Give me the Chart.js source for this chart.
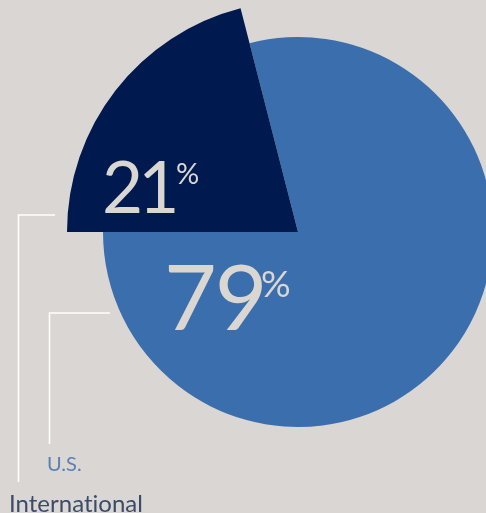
<!DOCTYPE html>
<html><head><meta charset="utf-8">
<script src="https://cdn.jsdelivr.net/npm/chart.js@4/dist/chart.umd.min.js"></script>
<style>
html,body{margin:0;padding:0;background:#DAD6D3;overflow:hidden;width:486px;height:513px;}
canvas{position:absolute;left:0;top:0;}
</style></head>
<body>
<canvas id="c" width="540" height="513" style="width:540px;height:513px"></canvas>
<script>
const categories = ['U.S.', 'International'];
const shares = [79, 21];
const sliceColors = ['#3A6EAD', '#001A4F'];
const labelColors = ['#5A80B6', '#3B4B68'];
const DARK_RADIUS_SCALE = 231 / 195;

const txt = '#DAD6D1';

const overlay = {
  id: 'overlay',
  beforeDatasetsDraw(chart) {
    const meta = chart.getDatasetMeta(0);
    meta.data[1].outerRadius = meta.data[0].outerRadius * DARK_RADIUS_SCALE;
  },
  afterDraw(chart) {
    const ctx = chart.ctx;
    ctx.save();
    ctx.fillStyle = txt;
    ctx.textBaseline = 'alphabetic';
    ctx.textAlign = 'left';
    // 21%
    ctx.letterSpacing = '-5px';
    ctx.font = '71px Lato';
    ctx.fillText(String(shares[1]), 102, 213);
    ctx.letterSpacing = '0px';
    ctx.font = '29px Lato';
    ctx.fillText('%', 176, 184);
    // 79%
    ctx.letterSpacing = '-2px';
    ctx.font = '91px Lato';
    ctx.fillText(String(shares[0]), 164, 330);
    ctx.letterSpacing = '0px';
    ctx.font = '37px Lato';
    ctx.fillText('%', 261, 297);
    // leader lines
    ctx.strokeStyle = '#FFFFFF';
    ctx.lineWidth = 1.6;
    ctx.beginPath();
    ctx.moveTo(55, 215); ctx.lineTo(18.5, 215); ctx.lineTo(18.5, 482);
    ctx.moveTo(110, 313); ctx.lineTo(49.5, 313); ctx.lineTo(49.5, 444);
    ctx.stroke();
    // category labels
    ctx.letterSpacing = '0.01px';
    ctx.font = '20px Lato';
    ctx.fillStyle = labelColors[0];
    ctx.fillText(categories[0], 47, 471);
    ctx.font = '24px Lato';
    ctx.fillStyle = labelColors[1];
    ctx.fillText(categories[1], 9, 512);
    ctx.restore();
  }
};

new Chart(document.getElementById('c'), {
  type: 'pie',
  data: {
    labels: categories,
    datasets: [{
      data: shares,
      backgroundColor: sliceColors,
      borderWidth: 0,
      clip: false
    }]
  },
  options: {
    responsive: false,
    animation: false,
    events: [],
    rotation: -14.4,
    layout: { padding: { left: 103, right: 47, top: 37, bottom: 86 } },
    plugins: { legend: { display: false }, tooltip: { enabled: false } }
  },
  plugins: [overlay]
});
</script>
</body></html>
